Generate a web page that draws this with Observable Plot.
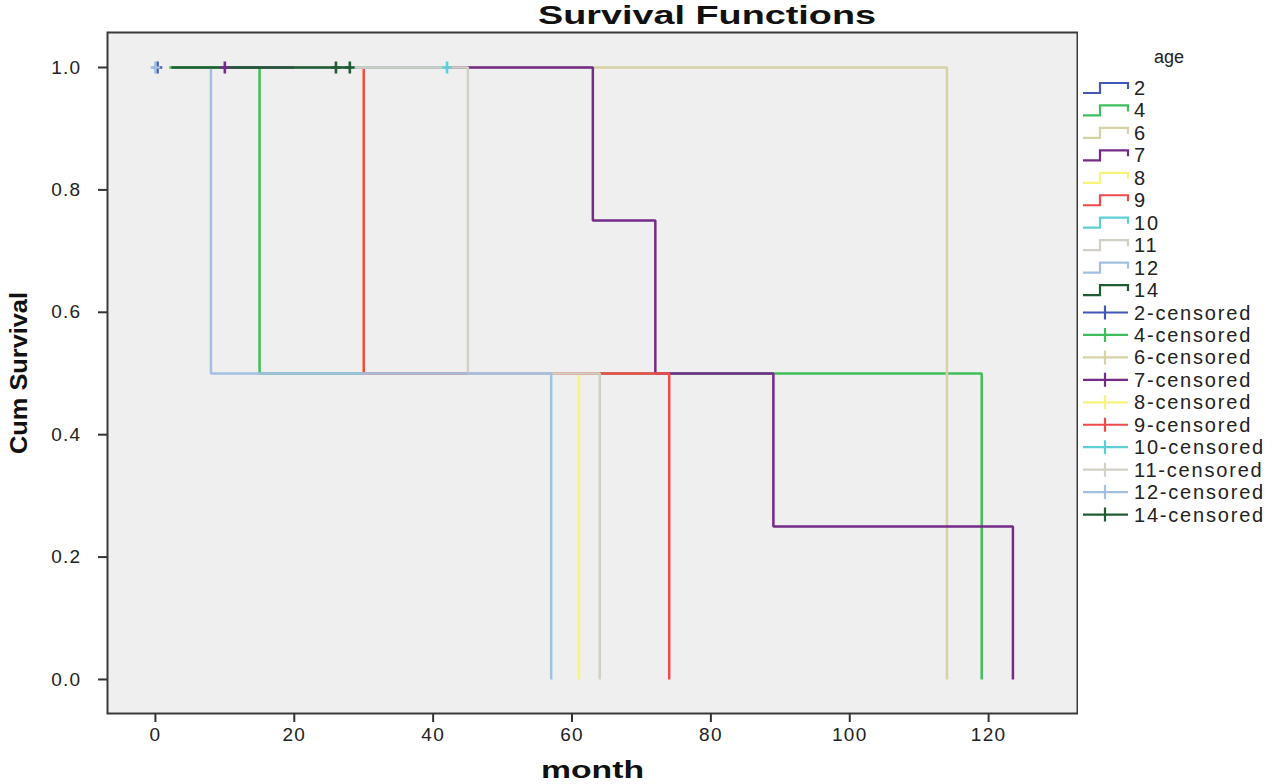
<!DOCTYPE html>
<html>
<head>
<meta charset="utf-8">
<script src="https://cdn.jsdelivr.net/npm/d3@7"></script>
<script src="https://cdn.jsdelivr.net/npm/@observablehq/plot@0.6"></script>
<style>
  html, body { margin: 0; padding: 0; background: #ffffff; }
  body { width: 1280px; height: 784px; position: relative; overflow: hidden; font-family: "Liberation Sans", Arial, sans-serif; }
  #title { position: absolute; left: 0; top: 0; }
  #chart { position: absolute; left: 0; top: 0; }
  #legend { position: absolute; left: 1078px; top: 0; }
  #chart svg text { font-family: "Liberation Sans", Arial, sans-serif; }
  g[aria-label="x-axis label"] text, g[aria-label="y-axis label"] text {
    font-family: "Liberation Sans Narrow", "Liberation Sans", Arial, sans-serif !important;
    font-size: 24px; font-weight: bold; fill: #111;
  }
  g[aria-label="x-axis tick label"] text, g[aria-label="y-axis tick label"] text {
    font-size: 19px; letter-spacing: 1.3px; fill: #222;
  }
</style>
</head>
<body>
<div id="chart"></div>
<svg id="title" width="1280" height="40"></svg>
<svg id="legend" width="202" height="560"></svg>
<script>
// ---- data ----
const ages = ["2", "4", "6", "7", "8", "9", "10", "11", "12", "14"];
const ageColors = ["#4357b9", "#3fbf5c", "#d6d2a6", "#742a88", "#f7f47c", "#f04a4a", "#5fcfd6", "#d2d0c4", "#a3c0e2", "#1f5c33"];
// first observed month of each group's curve
const curveStart = [0.3, 2, 45, 10, 20, 20, 20, 20, 8, 2.3];
// months with events, and cumulative survival right after each
const eventTimes = [[], [15, 119], [114], [63, 72, 89, 123.5], [30, 61], [30, 74], [], [45, 64], [8, 57], []];
const eventSurv  = [[], [0.5, 0], [0], [0.75, 0.5, 0.25, 0], [0.5, 0], [0.5, 0], [], [0.5, 0], [0.5, 0], []];
// censored months
const censorTimes = [[0.3], [], [], [10], [], [], [42], [], [0], [26, 28]];
const xTicks = [0, 20, 40, 60, 80, 100, 120];
const yTicks = [0, 0.2, 0.4, 0.6, 0.8, 1.0];

// ---- build step curves ----
const curveRows = [];
const censorRows = [];
ages.forEach((age, i) => {
  let s = 1;
  curveRows.push({age, t: curveStart[i], s});
  eventTimes[i].forEach((t, j) => {
    curveRows.push({age, t, s});
    s = eventSurv[i][j];
    curveRows.push({age, t, s});
  });
  const lastEvent = eventTimes[i].length ? eventTimes[i][eventTimes[i].length - 1] : -Infinity;
  const lastCens = censorTimes[i].length ? d3.max(censorTimes[i]) : -Infinity;
  if (lastCens > lastEvent && lastCens > curveStart[i]) curveRows.push({age, t: lastCens, s});
  censorTimes[i].forEach(t => {
    let sv = 1;
    eventTimes[i].forEach((et, j) => { if (et <= t) sv = eventSurv[i][j]; });
    censorRows.push({age, t, s: sv});
  });
});

const plusSymbol = {
  draw(ctx, size) {
    const r = Math.sqrt(size / Math.PI);
    ctx.moveTo(0, -r); ctx.lineTo(0, r);
    ctx.moveTo(-r * 0.8, 0); ctx.lineTo(r * 0.8, 0);
  }
};

const chart = Plot.plot({
  width: 1078,
  height: 784,
  marginLeft: 107,
  marginRight: 1,
  marginTop: 32,
  marginBottom: 71,
  style: {background: "transparent", fontSize: "19px", color: "#222"},
  x: {domain: [-6.9, 132.8]},
  y: {domain: [-0.0556, 1.0572]},
  color: {domain: ages, range: ageColors},
  marks: [
    Plot.frame({fill: "#efefef", stroke: null}),
    Plot.line(curveRows, {x: "t", y: "s", z: "age", stroke: "age", strokeWidth: 2.5, strokeLinejoin: "miter", strokeLinecap: "butt"}),
    Plot.dot(censorRows, {x: "t", y: "s", stroke: "age", symbol: plusSymbol, r: 6, strokeWidth: 2.6, fill: "none"}),
    Plot.frame({stroke: "#3a3a3a", strokeWidth: 2}),
    Plot.axisX({ticks: xTicks, tickSize: 9, tickPadding: 5, strokeWidth: 2, stroke: "#333", label: "month", labelAnchor: "center", labelArrow: "none", labelOffset: 64}),
    Plot.axisY({ticks: yTicks, tickFormat: d3.format(".1f"), tickSize: 9, tickPadding: 17, strokeWidth: 2, stroke: "#333", label: "Cum Survival", labelAnchor: "center", labelArrow: "none", labelOffset: 98})
  ]
});
document.getElementById("chart").appendChild(chart);

// condense axis titles to the reference widths
const xl = chart.querySelector('g[aria-label="x-axis label"] text');
if (xl) { xl.setAttribute("textLength", 103); xl.setAttribute("lengthAdjust", "spacingAndGlyphs"); }
const yl = chart.querySelector('g[aria-label="y-axis label"] text');
if (yl) { yl.setAttribute("textLength", 162); yl.setAttribute("lengthAdjust", "spacingAndGlyphs"); }

// ---- title ----
d3.select("#title").append("text")
  .attr("x", 707).attr("y", 24).attr("text-anchor", "middle")
  .attr("font-family", "'Liberation Sans Narrow', 'Liberation Sans', Arial, sans-serif")
  .attr("font-weight", "bold").attr("font-size", 26).attr("fill", "#111")
  .attr("textLength", 338).attr("lengthAdjust", "spacingAndGlyphs")
  .text("Survival Functions");

// ---- legend ----
const lg = d3.select("#legend");
lg.append("text").attr("x", 91).attr("y", 63).attr("text-anchor", "middle")
  .attr("font-family", "'Liberation Sans', Arial, sans-serif").attr("font-size", 18).attr("fill", "#222")
  .text("age");
const legendItems = [
  ...ages.map((a, i) => ({label: a, color: ageColors[i], kind: "step"})),
  ...ages.map((a, i) => ({label: a + "-censored", color: ageColors[i], kind: "cens"}))
];
legendItems.forEach((it, k) => {
  const y = 88 + k * 22.45;
  const g = lg.append("g").attr("transform", `translate(0,${y})`);
  if (it.kind === "step") {
    g.append("path").attr("d", "M5,5 H22 V-5 H50 V1").attr("fill", "none")
      .attr("stroke", it.color).attr("stroke-width", 2.2);
  } else {
    g.append("path").attr("d", "M5,0 H50 M27,-7 V7").attr("fill", "none")
      .attr("stroke", it.color).attr("stroke-width", 2.2);
  }
  g.append("text").attr("x", 56).attr("y", 7)
    .attr("font-family", "'Liberation Sans', Arial, sans-serif").attr("font-size", 20)
    .attr("letter-spacing", 1.8).attr("fill", "#222").text(it.label);
});
</script>
</body>
</html>
